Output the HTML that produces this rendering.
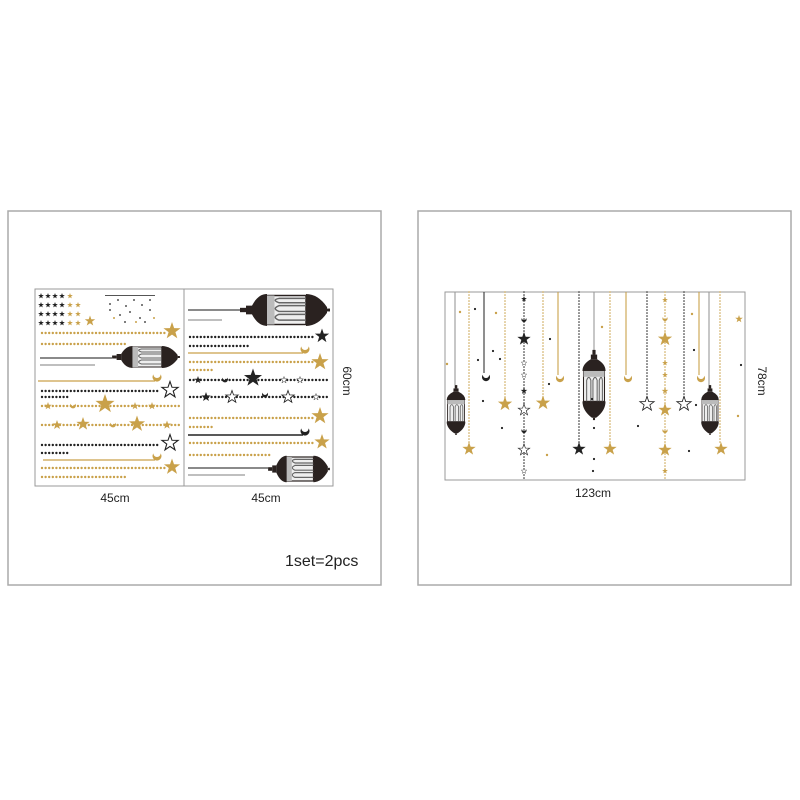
<!DOCTYPE html>
<html><head><meta charset="utf-8"><style>
html,body{margin:0;padding:0;background:#fff;}
svg{display:block;font-family:"Liberation Sans",sans-serif;}
</style></head><body>
<svg width="800" height="800" viewBox="0 0 800 800" xmlns="http://www.w3.org/2000/svg">
<defs>
<path id="st" d="M0,-10L2.35,-3.24L9.51,-3.09L3.8,1.24L5.88,8.09L0,4L-5.88,8.09L-3.8,1.24L-9.51,-3.09L-2.35,-3.24Z"/>
<path id="mn" d="M-4,-4 A5,5 0 1 0 4,-4 A4,4 0 1 1 -4,-4Z"/>
<g id="lan">
<rect x="-1.5" y="-30" width="3" height="4" fill="#2a2220"/>
<rect x="-3" y="-26" width="6" height="4" fill="#2a2220"/>
<path d="M-3,-22L3,-22Q11,-18 11,-12L-11,-12Q-11,-18 -3,-22Z" fill="#2a2220"/>
<rect x="-10" y="-12" width="20" height="26" fill="#eee" stroke="#2a2220" stroke-width="1"/>
<path d="M-7,14V-4Q-5,-9 -3,-4V14M-1,14V-4Q1,-9 3,-4V14M5,14V-4Q7,-9 8,-4V14" fill="none" stroke="#666" stroke-width="1"/>
<rect x="-10" y="-12" width="20" height="5" fill="#bbb"/>
<path d="M-11,14L11,14Q11,22 2,28L-2,28Q-11,22 -11,14Z" fill="#2a2220"/>
<rect x="-1" y="28" width="2" height="2" fill="#2a2220"/>
</g>
</defs>

<rect x="8" y="211" width="373" height="374" fill="none" stroke="#aaa" stroke-width="1.5"/>
<rect x="418" y="211" width="373" height="374" fill="none" stroke="#aaa" stroke-width="1.5"/>

<rect x="35" y="289" width="149" height="197" fill="#fff" stroke="#999" stroke-width="1"/>
<rect x="184" y="289" width="149" height="197" fill="#fff" stroke="#999" stroke-width="1"/>

<g stroke-linecap="round" fill="none" stroke-width="2.4" stroke-dasharray="0 3.6">
<line x1="42" y1="333" x2="165" y2="333" stroke="#c9a14a"/>
<line x1="42" y1="344" x2="125" y2="344" stroke="#c9a14a"/>
<line x1="42" y1="391" x2="160" y2="391" stroke="#222"/>
<line x1="42" y1="397" x2="70" y2="397" stroke="#222"/>
<line x1="42" y1="406" x2="180" y2="406" stroke="#c9a14a"/>
<line x1="42" y1="425" x2="180" y2="425" stroke="#c9a14a"/>
<line x1="42" y1="445" x2="160" y2="445" stroke="#222"/>
<line x1="42" y1="453" x2="68" y2="453" stroke="#222"/>
<line x1="42" y1="468" x2="165" y2="468" stroke="#c9a14a"/>
<line x1="42" y1="477" x2="125" y2="477" stroke="#c9a14a"/>
<line x1="190" y1="337" x2="316" y2="337" stroke="#222"/>
<line x1="190" y1="346" x2="250" y2="346" stroke="#222"/>
<line x1="190" y1="362" x2="315" y2="362" stroke="#c9a14a"/>
<line x1="190" y1="370" x2="215" y2="370" stroke="#c9a14a"/>
<line x1="190" y1="380" x2="330" y2="380" stroke="#222"/>
<line x1="190" y1="397" x2="330" y2="397" stroke="#222"/>
<line x1="190" y1="418" x2="315" y2="418" stroke="#c9a14a"/>
<line x1="190" y1="427" x2="215" y2="427" stroke="#c9a14a"/>
<line x1="190" y1="443" x2="315" y2="443" stroke="#c9a14a"/>
<line x1="190" y1="455" x2="270" y2="455" stroke="#c9a14a"/>
</g>
<g stroke-width="1.2" fill="none">
<line x1="40" y1="358" x2="112" y2="358" stroke="#444"/>
<line x1="40" y1="365" x2="95" y2="365" stroke="#999"/>
<line x1="38" y1="381" x2="155" y2="381" stroke="#c9a14a"/>
<line x1="43" y1="460" x2="155" y2="460" stroke="#c9a14a"/>
<line x1="188" y1="310" x2="240" y2="310" stroke="#444"/>
<line x1="188" y1="320" x2="222" y2="320" stroke="#999"/>
<line x1="188" y1="353" x2="303" y2="353" stroke="#c9a14a"/>
<line x1="188" y1="435" x2="303" y2="435" stroke="#222" stroke-width="1.6"/>
<line x1="188" y1="468" x2="268" y2="468" stroke="#444"/>
<line x1="188" y1="475" x2="245" y2="475" stroke="#999"/>
</g>
<g fill="#222">
<use href="#st" transform="translate(41,296) scale(.3)"/><use href="#st" transform="translate(48,296) scale(.3)"/><use href="#st" transform="translate(55,296) scale(.3)"/><use href="#st" transform="translate(62,296) scale(.3)"/>
<use href="#st" transform="translate(41,305) scale(.3)"/><use href="#st" transform="translate(48,305) scale(.3)"/><use href="#st" transform="translate(55,305) scale(.3)"/><use href="#st" transform="translate(62,305) scale(.3)"/>
<use href="#st" transform="translate(41,314) scale(.3)"/><use href="#st" transform="translate(48,314) scale(.3)"/><use href="#st" transform="translate(55,314) scale(.3)"/><use href="#st" transform="translate(62,314) scale(.3)"/>
<use href="#st" transform="translate(41,323) scale(.3)"/><use href="#st" transform="translate(48,323) scale(.3)"/><use href="#st" transform="translate(55,323) scale(.3)"/><use href="#st" transform="translate(62,323) scale(.3)"/>
</g>
<g fill="#c9a14a">
<use href="#st" transform="translate(70,296) scale(.3)"/><use href="#st" transform="translate(70,305) scale(.3)"/><use href="#st" transform="translate(78,305) scale(.3)"/><use href="#st" transform="translate(70,314) scale(.3)"/><use href="#st" transform="translate(78,314) scale(.3)"/><use href="#st" transform="translate(70,323) scale(.3)"/><use href="#st" transform="translate(78,323) scale(.3)"/>
<use href="#st" transform="translate(90,321) scale(.55)"/>
</g>
<g fill="#555"><rect x="105" y="295" width="50" height="1"/><circle cx="110" cy="304" r="1"/><circle cx="118" cy="300" r="1"/><circle cx="126" cy="306" r="1"/><circle cx="134" cy="300" r="1"/><circle cx="142" cy="305" r="1"/><circle cx="150" cy="300" r="1"/><circle cx="110" cy="310" r="1"/><circle cx="120" cy="315" r="1"/><circle cx="130" cy="312" r="1"/><circle cx="140" cy="318" r="1"/><circle cx="150" cy="310" r="1"/><circle cx="125" cy="322" r="1"/><circle cx="145" cy="322" r="1"/></g>
<g fill="#c9a14a"><circle cx="114" cy="318" r="1"/><circle cx="136" cy="322" r="1"/><circle cx="154" cy="318" r="1"/></g>

<use href="#lan" transform="translate(146,357) rotate(-90) scale(1,1.13)"/>
<use href="#lan" transform="translate(285,310) rotate(-90) scale(1.45,1.5)"/>
<use href="#lan" transform="translate(299,469) rotate(-90) scale(1.2,1.03)"/>

<g fill="#c9a14a">
<use href="#st" transform="translate(172,331) scale(.9)"/>
<use href="#st" transform="translate(105,404) scale(1)"/>
<use href="#st" transform="translate(48,406) scale(.4)"/><use href="#st" transform="translate(135,406) scale(.4)"/><use href="#st" transform="translate(152,406) scale(.4)"/>
<use href="#st" transform="translate(57,425) scale(.5)"/><use href="#st" transform="translate(83,424) scale(.7)"/><use href="#st" transform="translate(137,424) scale(.85)"/><use href="#st" transform="translate(167,425) scale(.45)"/>
<use href="#st" transform="translate(172,467) scale(.85)"/>
<use href="#st" transform="translate(320,362) scale(.9)"/>
<use href="#st" transform="translate(320,416) scale(.9)"/>
<use href="#st" transform="translate(322,442) scale(.8)"/>
</g>
<g fill="#fff" stroke="#222" stroke-width="1.3">
<use href="#st" transform="translate(170,390) scale(.85)"/>
<use href="#st" transform="translate(170,443) scale(.85)"/>
<use href="#st" transform="translate(284,380) scale(.35)"/><use href="#st" transform="translate(300,380) scale(.35)"/>
<use href="#st" transform="translate(232,397) scale(.65)"/><use href="#st" transform="translate(288,397) scale(.65)"/><use href="#st" transform="translate(316,397) scale(.35)"/>
</g>
<g fill="#222">
<use href="#st" transform="translate(322,336) scale(.75)"/>
<use href="#st" transform="translate(198,380) scale(.4)"/>
<use href="#st" transform="translate(253,378) scale(.95)"/>
<use href="#st" transform="translate(206,397) scale(.5)"/>
</g>
<g fill="#c9a14a">
<use href="#mn" transform="translate(157,378) scale(.9)"/><use href="#mn" transform="translate(157,457) scale(.9)"/><use href="#mn" transform="translate(305,350) scale(.9)"/>
<use href="#mn" transform="translate(73,406) scale(.6)"/><use href="#mn" transform="translate(113,425) scale(.6)"/>
</g>
<g fill="#222"><use href="#mn" transform="translate(305,432) scale(.9)"/><use href="#mn" transform="translate(225,380) scale(.6)"/><use href="#mn" transform="translate(265,395) scale(.6)"/></g>

<rect x="445" y="292" width="300" height="188" fill="#fff" stroke="#999" stroke-width="1"/>
<g stroke-width="1.1" fill="none">
<line x1="455" y1="292" x2="455" y2="385" stroke="#999"/>
<line x1="484" y1="292" x2="484" y2="373" stroke="#333"/>
<line x1="558" y1="292" x2="558" y2="375" stroke="#c9a14a"/>
<line x1="594" y1="292" x2="594" y2="355" stroke="#999"/>
<line x1="626" y1="292" x2="626" y2="375" stroke="#c9a14a"/>
<line x1="699" y1="292" x2="699" y2="375" stroke="#c9a14a"/>
<line x1="709" y1="292" x2="709" y2="388" stroke="#999"/>
</g>
<g stroke-linecap="round" fill="none" stroke-width="1.6" stroke-dasharray="0 3">
<line x1="469" y1="292" x2="469" y2="445" stroke="#c9a14a"/>
<line x1="505" y1="292" x2="505" y2="398" stroke="#c9a14a"/>
<line x1="524" y1="292" x2="524" y2="480" stroke="#222"/>
<line x1="543" y1="292" x2="543" y2="398" stroke="#c9a14a"/>
<line x1="579" y1="292" x2="579" y2="445" stroke="#222"/>
<line x1="610" y1="292" x2="610" y2="445" stroke="#c9a14a"/>
<line x1="647" y1="292" x2="647" y2="398" stroke="#222"/>
<line x1="665" y1="292" x2="665" y2="480" stroke="#c9a14a"/>
<line x1="684" y1="292" x2="684" y2="398" stroke="#222"/>
<line x1="720" y1="292" x2="720" y2="445" stroke="#c9a14a"/>
</g>
<use href="#lan" transform="translate(456,410) scale(.85,.83)"/>
<use href="#lan" transform="translate(594,385) scale(1.05,1.17)"/>
<use href="#lan" transform="translate(710,410) scale(.8,.83)"/>
<g fill="#c9a14a">
<use href="#st" transform="translate(469,449) scale(.7)"/><use href="#st" transform="translate(505,404) scale(.75)"/><use href="#st" transform="translate(543,403) scale(.75)"/>
<use href="#st" transform="translate(610,449) scale(.7)"/><use href="#st" transform="translate(721,449) scale(.7)"/>
<use href="#st" transform="translate(665,339) scale(.75)"/><use href="#st" transform="translate(665,410) scale(.7)"/><use href="#st" transform="translate(665,450) scale(.7)"/>
<use href="#st" transform="translate(665,300) scale(.3)"/><use href="#st" transform="translate(665,363) scale(.3)"/><use href="#st" transform="translate(665,375) scale(.3)"/><use href="#st" transform="translate(665,391) scale(.35)"/><use href="#st" transform="translate(665,471) scale(.3)"/>
<use href="#st" transform="translate(739,319) scale(.4)"/>
<circle cx="460" cy="312" r="1.2"/><circle cx="496" cy="313" r="1.2"/><circle cx="602" cy="327" r="1.2"/><circle cx="692" cy="314" r="1.2"/><circle cx="447" cy="364" r="1.2"/><circle cx="547" cy="455" r="1.2"/><circle cx="738" cy="416" r="1.2"/>
</g>
<g fill="#222">
<use href="#st" transform="translate(524,339) scale(.7)"/><use href="#st" transform="translate(524,299) scale(.3)"/><use href="#st" transform="translate(524,391) scale(.35)"/><use href="#st" transform="translate(579,449) scale(.7)"/>
<circle cx="475" cy="309" r="1.1"/><circle cx="478" cy="360" r="1.1"/><circle cx="493" cy="351" r="1.1"/><circle cx="483" cy="401" r="1.1"/><circle cx="502" cy="428" r="1.1"/><circle cx="550" cy="339" r="1.1"/><circle cx="549" cy="384" r="1.1"/><circle cx="592" cy="399" r="1.1"/><circle cx="594" cy="428" r="1.1"/><circle cx="594" cy="459" r="1.1"/><circle cx="638" cy="426" r="1.1"/><circle cx="694" cy="350" r="1.1"/><circle cx="696" cy="405" r="1.1"/><circle cx="689" cy="451" r="1.1"/><circle cx="741" cy="365" r="1.1"/><circle cx="500" cy="359" r="1.1"/><circle cx="593" cy="471" r="1.1"/>
</g>
<g fill="#fff" stroke="#222" stroke-width="1.1">
<use href="#st" transform="translate(524,410) scale(.6)"/><use href="#st" transform="translate(524,450) scale(.6)"/><use href="#st" transform="translate(524,363) scale(.3)"/><use href="#st" transform="translate(524,375) scale(.3)"/><use href="#st" transform="translate(524,471) scale(.3)"/>
<use href="#st" transform="translate(647,404) scale(.75)"/><use href="#st" transform="translate(684,404) scale(.75)"/>
</g>
<g fill="#222"><use href="#mn" transform="translate(486,378) scale(.8)"/><use href="#mn" transform="translate(524,320) scale(.5)"/><use href="#mn" transform="translate(524,431) scale(.5)"/></g>
<g fill="#c9a14a"><use href="#mn" transform="translate(560,379) scale(.8)"/><use href="#mn" transform="translate(628,379) scale(.8)"/><use href="#mn" transform="translate(701,379) scale(.8)"/><use href="#mn" transform="translate(665,319) scale(.5)"/><use href="#mn" transform="translate(665,431) scale(.5)"/></g>

<g fill="#222" font-size="12">
<text x="115" y="502" text-anchor="middle">45cm</text>
<text x="266" y="502" text-anchor="middle">45cm</text>
<text x="593" y="497" text-anchor="middle">123cm</text>
<text transform="translate(343,381) rotate(90)" text-anchor="middle">60cm</text>
<text transform="translate(758,381) rotate(90)" text-anchor="middle">78cm</text>
<text x="285" y="566" font-size="16">1set=2pcs</text>
</g>
</svg>
</body></html>
